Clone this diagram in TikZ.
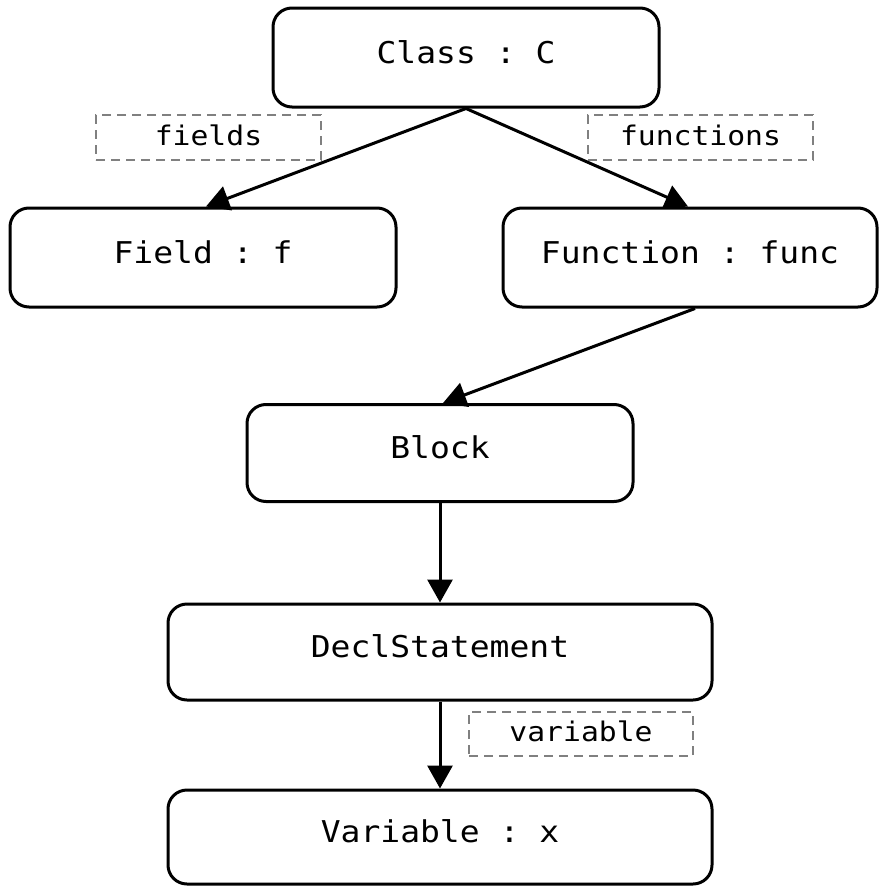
\documentclass[tikz,border=0pt]{standalone}
\usepackage{fontspec}
\setmonofont[FakeStretch=1.1]{DejaVu Sans Mono}
\usetikzlibrary{arrows.meta,calc}

\tikzset{
  treebox/.style={draw=black, line width=3pt, rounded corners=19pt, fill=white,
    minimum height=97pt, inner sep=0pt,
    font=\ttfamily\fontsize{30}{30}\selectfont, text height=22pt, text depth=11pt},
  rolelabel/.style={draw=black!50, dash pattern=on 9pt off 6pt, line width=2.6pt,
    minimum height=45pt, minimum width=225pt, inner sep=0pt,
    font=\ttfamily\fontsize{27}{27}\selectfont, text height=20pt, text depth=5pt},
  link/.style={line width=3pt, -{Triangle[length=23pt,width=25pt]}},
}

\begin{document}
\begin{tikzpicture}[x=1pt, y=-1pt]
  \useasboundingbox[fill=white] (0,0) rectangle (878,886);

  % class members
  \node[treebox, minimum width=386pt, minimum height=99pt] (cls) at (466,57.5) {Class : C};
  \node[treebox, minimum width=386pt, minimum height=99pt] (fld) at (203,257.5) {Field : f};
  \node[treebox, minimum width=374pt, minimum height=99pt] (fun) at (690,257.5) {Function : func};

  % function body
  \node[treebox, minimum width=386pt] (blk) at (440,453) {Block};
  \node[treebox, minimum width=544pt, minimum height=96pt] (dcl) at (440,652) {DeclStatement};
  \node[treebox, minimum width=544pt, minimum height=94pt] (var) at (440,837) {Variable : x};

  % edge role labels
  \node[rolelabel] (lfields) at (208.5,137.5) {fields};
  \node[rolelabel] (lfuncs) at (700.5,137.5) {functions};
  \node[rolelabel, minimum width=224pt, minimum height=44pt] (lvar) at (581,734) {variable};

  % containment edges
  \draw[link] (cls.south) -- ($(fld.north)+(3,0)$);
  \draw[link] (cls.south) -- ($(fun.north)+(-2,0)$);
  \draw[link] ($(fun.south)+(5,0)$) -- ($(blk.north)+(3,0)$);
  \draw[link] (blk.south) -- (dcl.north);
  \draw[link] (dcl.south) -- (var.north);
\end{tikzpicture}
\end{document}
